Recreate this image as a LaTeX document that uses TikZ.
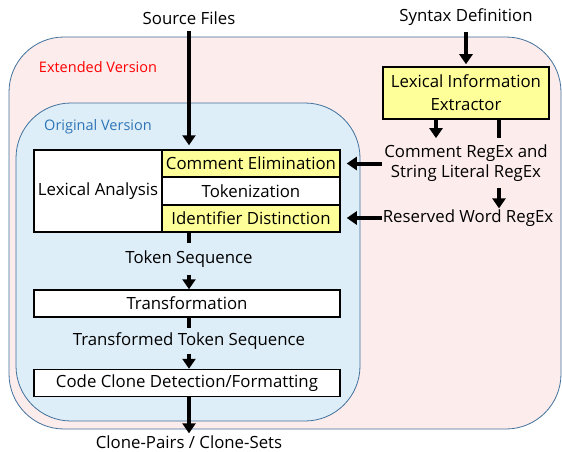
\documentclass[tikz,border=0pt]{standalone}
\usepackage{fontspec}
\setmainfont{Open Sans}
\usepackage{tikz}
\usetikzlibrary{arrows.meta}

\definecolor{extfill}{RGB}{253,236,236}
\definecolor{origfill}{RGB}{222,238,248}
\definecolor{frameline}{RGB}{65,113,156}
\definecolor{extlabel}{RGB}{255,0,0}
\definecolor{origlabel}{RGB}{46,117,182}
\definecolor{stage}{RGB}{255,255,153}

\begin{document}
\begin{tikzpicture}[x=1pt, y=-1pt,
    frame/.style={rectangle, draw=frameline, line width=0.8pt, rounded corners=55pt, inner sep=0pt},
    framename/.style={font=\fontsize{14.5}{17}\selectfont},
    box/.style={rectangle, draw=black, line width=1.5pt, fill=white, minimum height=27pt, inner sep=0pt, align=center, font=\fontsize{16.8}{23}\selectfont},
    hl/.style={box, fill=stage},
    lbl/.style={inner sep=2pt, align=center, font=\fontsize{16.8}{20.5}\selectfont},
    arr/.style={-{Triangle[length=10pt, width=13pt]}, line width=4pt},
    stub/.style={line width=4pt}
]
\useasboundingbox (0,0) rectangle (562,452);

\node[frame, fill=extfill, minimum width=552pt, minimum height=392pt] (ext) at (285,233) {};
\node[frame, fill=origfill, minimum width=344pt, minimum height=318pt] (orig) at (188,262) {};
\node[framename, text=extlabel] (extname) at (98,67) {Extended Version};
\node[framename, text=origlabel] (origname) at (98,127) {Original Version};

\node[box, minimum width=128pt, minimum height=82pt] (lex) at (98,191) {Lexical Analysis};
\node[hl, minimum width=178pt] (elim) at (251,163.5) {Comment Elimination};
\node[box, minimum width=178pt] (tok) at (251,191) {Tokenization};
\node[hl, minimum width=178pt] (ident) at (251,218.5) {Identifier Distinction};
\node[box, minimum width=306pt] (trans) at (187,303.5) {Transformation};
\node[box, minimum width=306pt] (ccd) at (187,383) {Code Clone Detection/Formatting};
\node[hl, minimum width=166pt, minimum height=52pt] (extr) at (466,93) {Lexical Information\\Extractor};

\node[lbl, inner sep=6pt] (src) at (189,18) {Source Files};
\node[lbl, inner sep=6pt] (syn) at (466,17) {Syntax Definition};
\node[lbl, inner ysep=6pt] (regex) at (466,163) {Comment RegEx and\\String Literal RegEx};
\node[lbl, inner sep=1pt] (rsv) at (468,218) {Reserved Word RegEx};
\node[lbl, inner sep=7pt] (tokseq) at (189,259) {Token Sequence};
\node[lbl, inner sep=4pt] (ttseq) at (189,341) {Transformed Token Sequence};
\node[lbl] (result) at (189,442) {Clone-Pairs / Clone-Sets};

\draw[arr, shorten >=4pt] (src) -- (src |- elim.north);
\draw[arr, shorten >=2pt] (syn) -- (extr);
\draw[arr] ([xshift=-30pt]extr.south) -- ([xshift=-30pt]extr.south |- regex.north);
\draw[stub] ([xshift=33pt]extr.south) -- ([xshift=33pt]extr.south |- regex.north);
\draw[arr] ([xshift=33pt]extr.south |- regex.south) -- ([xshift=33pt]extr.south |- rsv.north);
\draw[arr, shorten >=6pt] (regex.west |- elim) -- (elim.east);
\draw[arr, shorten >=6pt] (rsv.west) -- (rsv.west -| ident.east);
\draw[stub] (tokseq |- ident.south) -- (tokseq);
\draw[arr] (tokseq) -- (tokseq |- trans.north);
\draw[stub] (ttseq |- trans.south) -- (ttseq);
\draw[arr] (ttseq) -- (ttseq |- ccd.north);
\draw[arr] (ccd.south -| result) -- (result);
\end{tikzpicture}
\end{document}
